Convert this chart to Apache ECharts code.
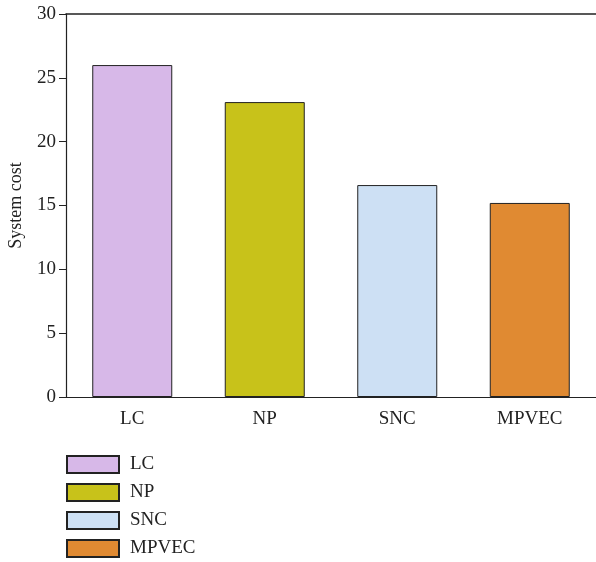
<!DOCTYPE html>
<html><head><meta charset="utf-8">
<script src="https://cdn.jsdelivr.net/npm/echarts@6/dist/echarts.min.js"></script>
<style>html,body{margin:0;padding:0;background:#fff}#c{width:596px;height:562px}</style>
</head><body><div id="c"></div>
<script>
const categories = ['LC', 'NP', 'SNC', 'MPVEC'];
const values = [26.0, 23.1, 16.6, 15.2];
const colors = ['#d7b8e8', '#c8c21a', '#cde0f4', '#e08a32'];
const yTicks = [0, 5, 10, 15, 20, 25, 30];
const yName = 'System cost';

const font = 'Liberation Serif';
const series = categories.map((name, i) => ({
  name: name,
  type: 'bar',
  barWidth: 80,
  barGap: '-100%',
  data: categories.map((c, j) => j === i ? values[i] : '-'),
  itemStyle: { color: colors[i], borderColor: '#222', borderWidth: 1 }
}));

const chart = echarts.init(document.getElementById('c'));
chart.setOption({
  animation: false,
  textStyle: { fontFamily: font },
  grid: { left: 66, right: 0, top: 14, bottom: 165, containLabel: false, outerBoundsMode: 'none' },
  legend: {
    orient: 'vertical', left: 66, top: 455, height: 110, padding: 0,
    itemWidth: 52, itemHeight: 17, itemGap: 9,
    icon: 'rect',
    textStyle: { fontFamily: font, fontSize: 19, color: '#222', padding: [0, 0, 0, 6] },
    data: categories
  },
  xAxis: [{
    type: 'category', data: categories,
    axisLine: { lineStyle: { color: '#222', width: 1.2 } },
    axisTick: { alignWithLabel: true, length: 7, lineStyle: { color: '#222' } },
    axisLabel: { fontFamily: font, fontSize: 19, color: '#222', margin: 13 }
  }, {
    type: 'category', data: categories, position: 'top',
    axisLine: { show: true, lineStyle: { color: '#222', width: 1.6 } },
    axisTick: { show: false }, axisLabel: { show: false }
  }],
  yAxis: {
    type: 'value', min: yTicks[0], max: yTicks[yTicks.length - 1], interval: 5,
    name: yName, nameLocation: 'middle', nameGap: 41, nameRotate: 90,
    nameTextStyle: { fontFamily: font, fontSize: 18, color: '#222' },
    axisLine: { show: true, lineStyle: { color: '#222', width: 1.2 } },
    axisTick: { show: true, length: 7, lineStyle: { color: '#222' } },
    axisLabel: { fontFamily: font, fontSize: 19, color: '#222', margin: 10 },
    splitLine: { show: false }
  },
  series: series
});
</script></body></html>
